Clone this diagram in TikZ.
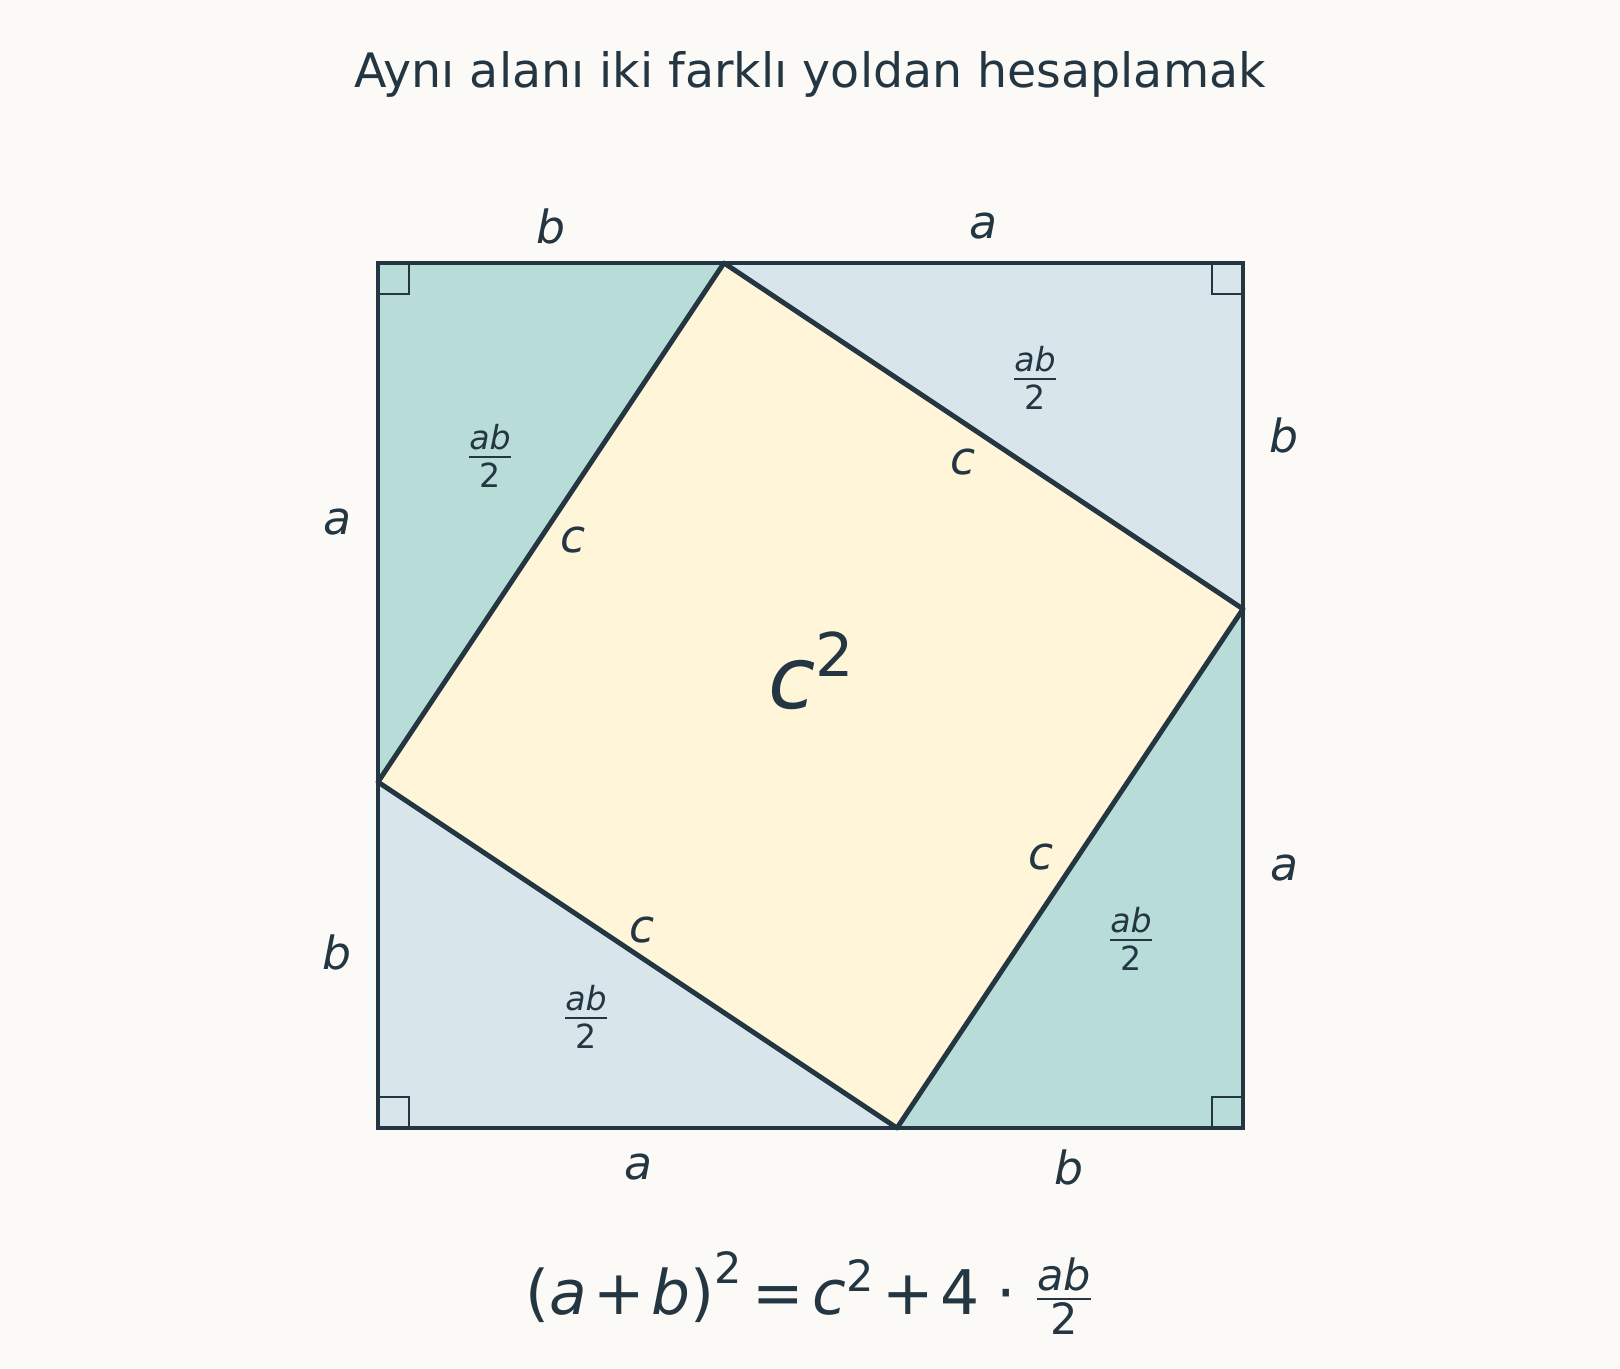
\documentclass[tikz,border=0pt]{standalone}
\usepackage{amsmath}
\usepackage{fontspec}
\setmainfont{DejaVu Sans}
\usetikzlibrary{calc}
\definecolor{bgcolor}{RGB}{251,250,246}
\definecolor{inkcolor}{RGB}{36,54,66}
\definecolor{tealcolor}{RGB}{184,221,217}
\definecolor{bluecolor}{RGB}{216,230,236}
\definecolor{yellowcolor}{RGB}{255,245,217}

\newcommand{\halfab}{$\frac{\textit{ab}}{\textup{2}}$}

\begin{document}
\begin{tikzpicture}[
		% Region styles
		tealpart/.style={fill=tealcolor},
		bluepart/.style={fill=bluecolor},
		innerpart/.style={fill=yellowcolor},
		% Line styles
		outerline/.style={draw=inkcolor, line width=1.3pt},
		innerline/.style={draw=inkcolor, line width=1.4pt, line join=round},
		rightmark/.style={draw=inkcolor, line width=0.6pt},
		% Text styles
		sidelabel/.style={font=\fontsize{13}{15}\selectfont\itshape, text=inkcolor},
		arealabel/.style={font=\fontsize{13.5}{16}\selectfont, text=inkcolor},
		biglabel/.style={font=\fontsize{24.5}{28}\selectfont, text=inkcolor},
		titlelabel/.style={font=\fontsize{13.5}{16}\selectfont, text=inkcolor},
		formulalabel/.style={font=\fontsize{17.5}{20}\selectfont, text=inkcolor}
		]
		
		% Background
		\fill[bgcolor] (-3.78,-2.40) rectangle (12.42,11.28);
		\useasboundingbox (-3.78,-2.40) rectangle (12.42,11.28);
		
		% Corners of the big square
		\coordinate (sw) at (0,0);
		\coordinate (se) at (8.65,0);
		\coordinate (ne) at (8.65,8.65);
		\coordinate (nw) at (0,8.65);
		
		% Corners of the tilted square
		\coordinate (ptop) at (3.46,8.65);
		\coordinate (pright) at (8.65,5.19);
		\coordinate (pbottom) at (5.19,0);
		\coordinate (pleft) at (0,3.46);
		
		% Four triangles and the inner square
		\fill[tealpart] (nw) -- (ptop) -- (pleft) -- cycle;
		\fill[bluepart] (ptop) -- (ne) -- (pright) -- cycle;
		\fill[tealpart] (pright) -- (se) -- (pbottom) -- cycle;
		\fill[bluepart] (pbottom) -- (sw) -- (pleft) -- cycle;
		\fill[innerpart] (ptop) -- (pright) -- (pbottom) -- (pleft) -- cycle;
		
		% Right angle marks
		\draw[rightmark] (0,8.34) rectangle (0.31,8.65);
		\draw[rightmark] (8.34,8.34) rectangle (8.65,8.65);
		\draw[rightmark] (0,0) rectangle (0.31,0.31);
		\draw[rightmark] (8.34,0) rectangle (8.65,0.31);
		
		% Outlines
		\draw[outerline] (sw) rectangle (ne);
		\draw[innerline] (ptop) -- (pright) -- (pbottom) -- (pleft) -- cycle;
		
		% Side labels
		\node[sidelabel] (top_b) at (1.73,9.02) {b};
		\node[sidelabel] (top_a) at (6.05,9.02) {a};
		\node[sidelabel] (left_a) at (-0.41,6.06) {a};
		\node[sidelabel] (left_b) at (-0.41,1.76) {b};
		\node[sidelabel] (right_b) at (9.06,6.93) {b};
		\node[sidelabel] (right_a) at (9.06,2.60) {a};
		\node[sidelabel] (bottom_a) at (2.60,-0.39) {a};
		\node[sidelabel] (bottom_b) at (6.91,-0.39) {b};
		
		% Hypotenuse labels
		\node[sidelabel] (hyp_nw) at (1.95,5.88) {c};
		\node[sidelabel] (hyp_ne) at (5.85,6.66) {c};
		\node[sidelabel] (hyp_se) at (6.63,2.71) {c};
		\node[sidelabel] (hyp_sw) at (2.64,1.98) {c};
		
		% Triangle areas
		\node[arealabel] (area_nw) at (1.12,6.72) {\halfab};
		\node[arealabel] (area_ne) at (6.57,7.50) {\halfab};
		\node[arealabel] (area_se) at (7.53,1.89) {\halfab};
		\node[arealabel] (area_sw) at (2.08,1.11) {\halfab};
		
		% Inner square area
		\node[biglabel, anchor=base] (area_c) at (4.34,4.20) {$\textit{c}^{\textup{2}}$};
		
		% Title
		\node[titlelabel, anchor=base] (title) at (4.32,10.40) {Aynı alanı iki farklı yoldan hesaplamak};
		
		% Formula
		\node[formulalabel, anchor=base] (formula) at (4.32,-1.86) {\medmuskip=2mu\thickmuskip=2.5mu$\textup{(}\textit{a}\mathbin{\textup{+}}\textit{b}\textup{)}^{\textup{2}}\mathrel{\textup{=}}\textit{c}^{\textup{2}}\mathbin{\textup{+}}\textup{4}\,\mathbin{\textup{·}}\,\frac{\textit{ab}}{\textup{2}}$};
		
	\end{tikzpicture}
\end{document}
